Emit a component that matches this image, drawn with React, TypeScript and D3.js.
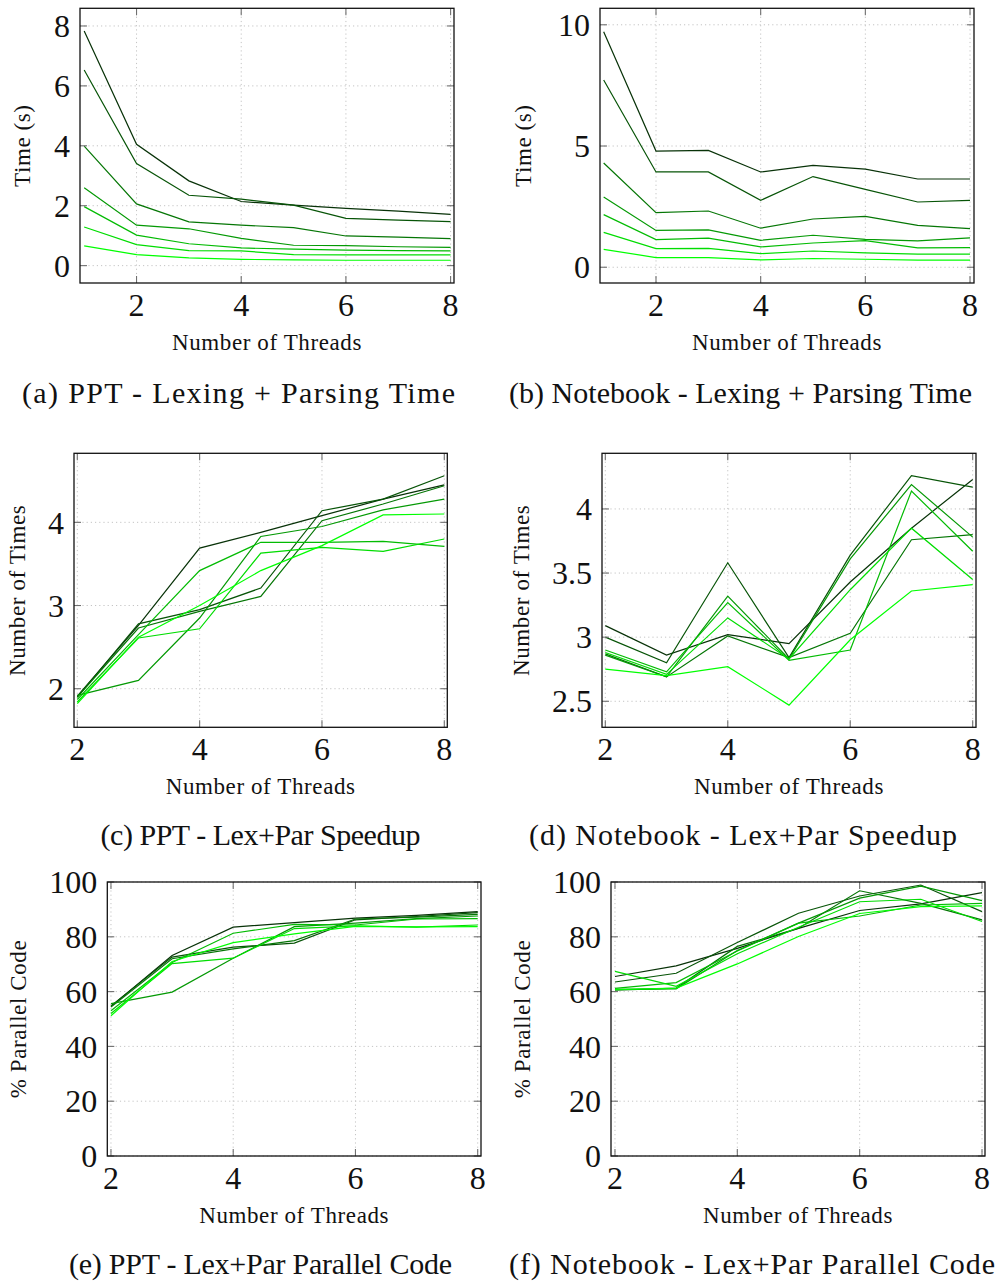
import React from "react";
import * as d3 from "d3";

// thread counts
const threadsA = [1, 2, 3, 4, 5, 6, 7, 8];
const threadsC = [2, 3, 4, 5, 6, 7, 8];

// (a) PPT - Lexing + Parsing Time, darkest series first
const pptTime = [
  [7.83, 4.05, 2.83, 2.14, 2.02, 1.91, 1.82, 1.71],
  [6.53, 3.41, 2.35, 2.22, 2.02, 1.58, 1.52, 1.47],
  [3.99, 2.06, 1.46, 1.35, 1.27, 0.99, 0.95, 0.9],
  [2.6, 1.35, 1.23, 0.91, 0.68, 0.67, 0.63, 0.61],
  [1.97, 1.02, 0.73, 0.59, 0.55, 0.52, 0.5, 0.49],
  [1.29, 0.7, 0.5, 0.49, 0.37, 0.36, 0.36, 0.36],
  [0.66, 0.37, 0.26, 0.21, 0.19, 0.18, 0.18, 0.18],
];

// (b) Notebook - Lexing + Parsing Time
const nbTime = [
  [9.71, 4.79, 4.82, 3.93, 4.2, 4.05, 3.64, 3.64],
  [7.72, 3.93, 3.93, 2.76, 3.74, 3.21, 2.69, 2.76],
  [4.3, 2.25, 2.32, 1.61, 1.99, 2.1, 1.73, 1.59],
  [2.9, 1.52, 1.54, 1.11, 1.32, 1.15, 1.09, 1.21],
  [2.17, 1.14, 1.2, 0.84, 1.0, 1.1, 0.8, 0.81],
  [1.44, 0.77, 0.78, 0.56, 0.67, 0.59, 0.54, 0.54],
  [0.74, 0.4, 0.4, 0.3, 0.36, 0.33, 0.29, 0.29],
];

// (c) PPT - Lex+Par Speedup
const pptSpeedup = [
  [1.91, 2.76, 3.69, 3.88, 4.08, 4.28, 4.45],
  [1.9, 2.78, 2.95, 3.21, 4.14, 4.28, 4.56],
  [1.9, 2.73, 2.93, 3.11, 4.02, 4.22, 4.44],
  [1.92, 2.1, 2.85, 3.83, 3.95, 4.15, 4.28],
  [1.87, 2.65, 3.42, 3.76, 3.76, 3.77, 3.71],
  [1.84, 2.61, 2.72, 3.63, 3.7, 3.65, 3.8],
  [1.82, 2.62, 3.0, 3.42, 3.72, 4.09, 4.1],
];

// (d) Notebook - Lex+Par Speedup
const nbSpeedup = [
  [3.09, 2.86, 3.02, 2.95, 3.43, 3.85, 4.23],
  [3.0, 2.8, 3.58, 2.84, 3.64, 4.26, 4.17],
  [2.87, 2.69, 3.01, 2.84, 3.03, 3.76, 3.8],
  [2.86, 2.69, 3.32, 2.83, 3.61, 4.19, 3.78],
  [2.9, 2.73, 3.27, 2.82, 2.9, 4.14, 3.67],
  [2.88, 2.71, 3.15, 2.83, 3.37, 3.85, 3.45],
  [2.75, 2.7, 2.77, 2.47, 2.98, 3.36, 3.41],
];

// (e) PPT - Lex+Par Parallel Code (%)
const pptParallel = [
  [54.6, 73.2, 83.5, 85.2, 86.8, 87.8, 89.2],
  [54.8, 72.6, 76.2, 77.7, 86.2, 87.4, 88.8],
  [54.4, 72.0, 75.6, 78.6, 86.5, 87.2, 88.2],
  [55.6, 59.8, 72.2, 83.7, 85.0, 86.6, 87.6],
  [53.0, 70.6, 81.3, 84.5, 84.3, 86.5, 86.6],
  [52.0, 70.2, 72.2, 83.0, 84.0, 83.5, 84.3],
  [51.2, 71.0, 77.9, 81.1, 83.8, 83.6, 83.7],
];

// (f) Notebook - Lex+Par Parallel Code (%)
const nbParallel = [
  [65.5, 69.4, 75.8, 83.1, 89.6, 92.0, 96.1],
  [63.5, 66.7, 77.9, 88.6, 94.9, 98.9, 89.2],
  [60.5, 61.3, 76.5, 83.1, 96.8, 92.2, 86.2],
  [60.8, 61.0, 75.0, 85.0, 94.1, 98.5, 93.2],
  [61.2, 63.3, 74.8, 85.0, 87.6, 91.6, 92.2],
  [67.4, 61.9, 73.8, 83.5, 92.8, 93.7, 85.6],
  [60.7, 61.3, 70.1, 80.1, 88.5, 91.0, 91.3],
];

const xTicks = [2, 4, 6, 8];
const timeTicksA = [0, 2, 4, 6, 8];
const timeTicksB = [0, 5, 10];
const speedTicksC = [2, 3, 4];
const speedTicksD = [2.5, 3, 3.5, 4];
const pctTicks = [0, 20, 40, 60, 80, 100];

const captions = [
  "(a) PPT - Lexing + Parsing Time",
  "(b) Notebook - Lexing + Parsing Time",
  "(c) PPT - Lex+Par Speedup",
  "(d) Notebook - Lex+Par Speedup",
  "(e) PPT - Lex+Par Parallel Code",
  "(f) Notebook - Lex+Par Parallel Code",
];

const color = (i) => d3.interpolateRgb("#083208", "#00ff00")(i / 6);
const FONT = "'Liberation Serif', 'Times New Roman', serif";

// cap: [centre x, baseline y, text width]
const panels = [
  { box: [80, 8.3, 374, 274.7], xd: [0.92, 8.065], yd: [-0.58, 8.59], xs: threadsA, data: pptTime, yt: timeTicksA, yl: "Time (s)", lx: 30, cap: [238.5, 403, 433] },
  { box: [600, 8.3, 374, 274.7], xd: [0.93, 8.076], yd: [-0.65, 10.68], xs: threadsA, data: nbTime, yt: timeTicksB, yl: "Time (s)", lx: 531, cap: [740.5, 403, 463] },
  { box: [74, 453.3, 373.3, 274], xd: [1.946, 8.049], yd: [1.536, 4.83], xs: threadsC, data: pptSpeedup, yt: speedTicksC, yl: "Number of Times", lx: 25, cap: [260.5, 845, 320] },
  { box: [602, 453.3, 374, 274], xd: [1.946, 8.054], yd: [2.297, 4.434], xs: threadsC, data: nbSpeedup, yt: speedTicksD, yl: "Number of Times", lx: 529, cap: [743, 845, 428] },
  { box: [107.3, 882, 373.7, 274], xd: [1.94, 8.054], yd: [0, 100], xs: threadsC, data: pptParallel, yt: pctTicks, yl: "% Parallel Code", lx: 26, cap: [260.5, 1274, 383] },
  { box: [611, 882, 374, 274], xd: [1.935, 8.049], yd: [0, 100], xs: threadsC, data: nbParallel, yt: pctTicks, yl: "% Parallel Code", lx: 530, cap: [752, 1274, 486] },
];

const Panel = ({ p, caption }) => {
  const [x0, y0, w, h] = p.box;
  const x = d3.scaleLinear().domain(p.xd).range([x0, x0 + w]);
  const y = d3.scaleLinear().domain(p.yd).range([y0 + h, y0]);
  const line = d3
    .line()
    .x((d) => x(d[0]))
    .y((d) => y(d[1]));
  const tickLen = 7;

  return (
    <g>
      {/* grid */}
      {xTicks.map((t) => (
        <line key={"gx" + t} x1={x(t)} x2={x(t)} y1={y0} y2={y0 + h} stroke="#c4c4c4" strokeWidth={1} strokeDasharray="1.2,3" />
      ))}
      {p.yt.map((t) => (
        <line key={"gy" + t} x1={x0} x2={x0 + w} y1={y(t)} y2={y(t)} stroke="#c4c4c4" strokeWidth={1} strokeDasharray="1.2,3" />
      ))}
      {/* series */}
      {p.data.map((s, i) => (
        <path key={"s" + i} d={line(s.map((v, j) => [p.xs[j], v]))} fill="none" stroke={color(i)} strokeWidth={1.2} />
      ))}
      {/* ticks */}
      {xTicks.map((t) => (
        <g key={"tx" + t} stroke="#707070" strokeWidth={1.1}>
          <line x1={x(t)} x2={x(t)} y1={y0 + h} y2={y0 + h - tickLen} />
          <line x1={x(t)} x2={x(t)} y1={y0} y2={y0 + tickLen} />
        </g>
      ))}
      {p.yt.map((t) => (
        <g key={"ty" + t} stroke="#707070" strokeWidth={1.1}>
          <line x1={x0} x2={x0 + tickLen} y1={y(t)} y2={y(t)} />
          <line x1={x0 + w} x2={x0 + w - tickLen} y1={y(t)} y2={y(t)} />
        </g>
      ))}
      <rect x={x0} y={y0} width={w} height={h} fill="none" stroke="#111" strokeWidth={1.3} />
      {/* tick labels */}
      {xTicks.map((t) => (
        <text key={"lx" + t} x={x(t)} y={y0 + h + 33} textAnchor="middle" fontSize={32} fontFamily={FONT} fill="#111">
          {t}
        </text>
      ))}
      {p.yt.map((t) => (
        <text key={"ly" + t} x={x0 - 10} y={y(t)} dy="0.35em" textAnchor="end" fontSize={32} fontFamily={FONT} fill="#111">
          {t}
        </text>
      ))}
      {/* axis labels */}
      <text x={x0 + w / 2} y={y0 + h + 67} textAnchor="middle" fontSize={23} letterSpacing={0.6} fontFamily={FONT} fill="#111">
        Number of Threads
      </text>
      <text transform={`translate(${p.lx},${y0 + h / 2}) rotate(-90)`} textAnchor="middle" fontSize={23} letterSpacing={0.6} fontFamily={FONT} fill="#111">
        {p.yl}
      </text>
      <text
        x={p.cap[0] - p.cap[2] / 2}
        y={p.cap[1]}
        textLength={p.cap[2]}
        lengthAdjust="spacing"
        fontSize={30}
        fontFamily={FONT}
        fill="#111"
      >
        {caption}
      </text>
    </g>
  );
};

const App = () => (
  <svg width={1003} height={1284} style={{ position: "absolute", left: 0, top: 0, background: "#fff" }}>
    <rect width={1003} height={1284} fill="#fff" />
    {panels.map((p, i) => (
      <Panel key={i} p={p} caption={captions[i]} />
    ))}
  </svg>
);

export default App;
